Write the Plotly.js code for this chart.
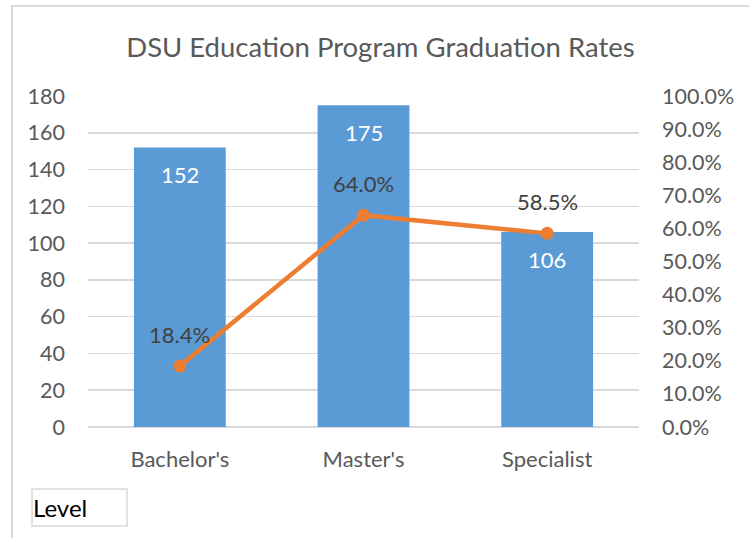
<!DOCTYPE html>
<html>
<head>
<meta charset="utf-8">
<script src="https://cdn.plot.ly/plotly-3.0.1.min.js"></script>
<style>html,body{margin:0;padding:0;background:#fff;}#chart{width:749px;height:538px;}</style>
</head>
<body>
<div id="chart"></div>
<script>
const categories = ["Bachelor's", "Master's", "Specialist"];
const graduates = [152, 175, 106];
const gradRates = [0.184, 0.640, 0.585];
const leftTicks = [0, 20, 40, 60, 80, 100, 120, 140, 160, 180];
const rightTicks = [0, 0.1, 0.2, 0.3, 0.4, 0.5, 0.6, 0.7, 0.8, 0.9, 1.0];

const FONT = "Lato, 'Open Sans', sans-serif";
const BLUE = '#5B9BD5';
const ORANGE = '#ED7D31';
const GRID = '#D9D9D9';

const traces = [
  {
    type: 'bar', x: categories, y: graduates, yaxis: 'y',
    marker: {color: BLUE}, hoverinfo: 'skip', showlegend: false
  },
  {
    type: 'scatter', mode: 'lines+markers', x: categories, y: gradRates, yaxis: 'y2',
    line: {color: ORANGE, width: 4.5}, marker: {color: ORANGE, size: 13},
    hoverinfo: 'skip', showlegend: false
  }
];

const annotations = [];
categories.forEach((c, i) => {
  annotations.push({
    x: c, y: graduates[i], xref: 'x', yref: 'y', text: String(graduates[i]),
    showarrow: false, yshift: -27, font: {family: FONT, size: 22, color: '#FFFFFF'}
  });
  annotations.push({
    x: c, y: gradRates[i], xref: 'x', yref: 'y2', text: (gradRates[i] * 100).toFixed(1) + '%',
    showarrow: false, yshift: 32, font: {family: FONT, size: 22, color: '#404040'}
  });
});
annotations.push({
  xref: 'paper', yref: 'paper', x: -0.1034, y: -0.2417, xanchor: 'left', yanchor: 'middle',
  text: 'Level', showarrow: false, align: 'left',
  font: {family: FONT, size: 24, color: '#000000'}
});

const layout = {
  width: 749, height: 538,
  margin: {l: 88, r: 110, t: 96, b: 111},
  paper_bgcolor: '#FFFFFF', plot_bgcolor: '#FFFFFF',
  font: {family: FONT, color: '#595959'},
  title: {
    text: 'DSU Education Program Graduation Rates',
    font: {family: FONT, size: 27.5, color: '#595959'},
    x: 0.508, xref: 'container', xanchor: 'center',
    y: 1 - 47 / 538, yref: 'container', yanchor: 'middle'
  },
  bargap: 0.5,
  showlegend: false,
  xaxis: {
    type: 'category', showgrid: false, zeroline: false, showline: false,
    ticks: '', tickfont: {family: FONT, size: 22, color: '#595959'},
    ticklabelstandoff: 17
  },
  yaxis: {
    range: [0, 180], tickvals: leftTicks, showgrid: true, gridcolor: GRID, gridwidth: 1.5,
    zeroline: true, zerolinecolor: GRID, zerolinewidth: 1.5, showline: false,
    ticks: '', ticklabelstandoff: 22,
    tickfont: {family: FONT, size: 21.5, color: '#595959'}
  },
  yaxis2: {
    overlaying: 'y', side: 'right', range: [0, 1], tickvals: rightTicks, tickformat: '.1%',
    showgrid: false, zeroline: false, showline: false, ticks: '', ticklabelstandoff: 22,
    tickfont: {family: FONT, size: 21.5, color: '#595959'}
  },
  shapes: [
    {type: 'rect', xref: 'paper', yref: 'paper', x0: -0.1379, x1: 1.3, y0: 1.272, y1: -0.5,
     line: {color: GRID, width: 2}, fillcolor: 'rgba(0,0,0,0)', layer: 'below'},
    {type: 'rect', xref: 'paper', yref: 'paper', x0: -0.1016, x1: 0.0708, y0: -0.1873, y1: -0.2991,
     line: {color: GRID, width: 1.5}, fillcolor: 'rgba(0,0,0,0)', layer: 'below'}
  ],
  annotations: annotations
};

Plotly.newPlot('chart', traces, layout, {staticPlot: true, displayModeBar: false});
</script>
</body>
</html>
